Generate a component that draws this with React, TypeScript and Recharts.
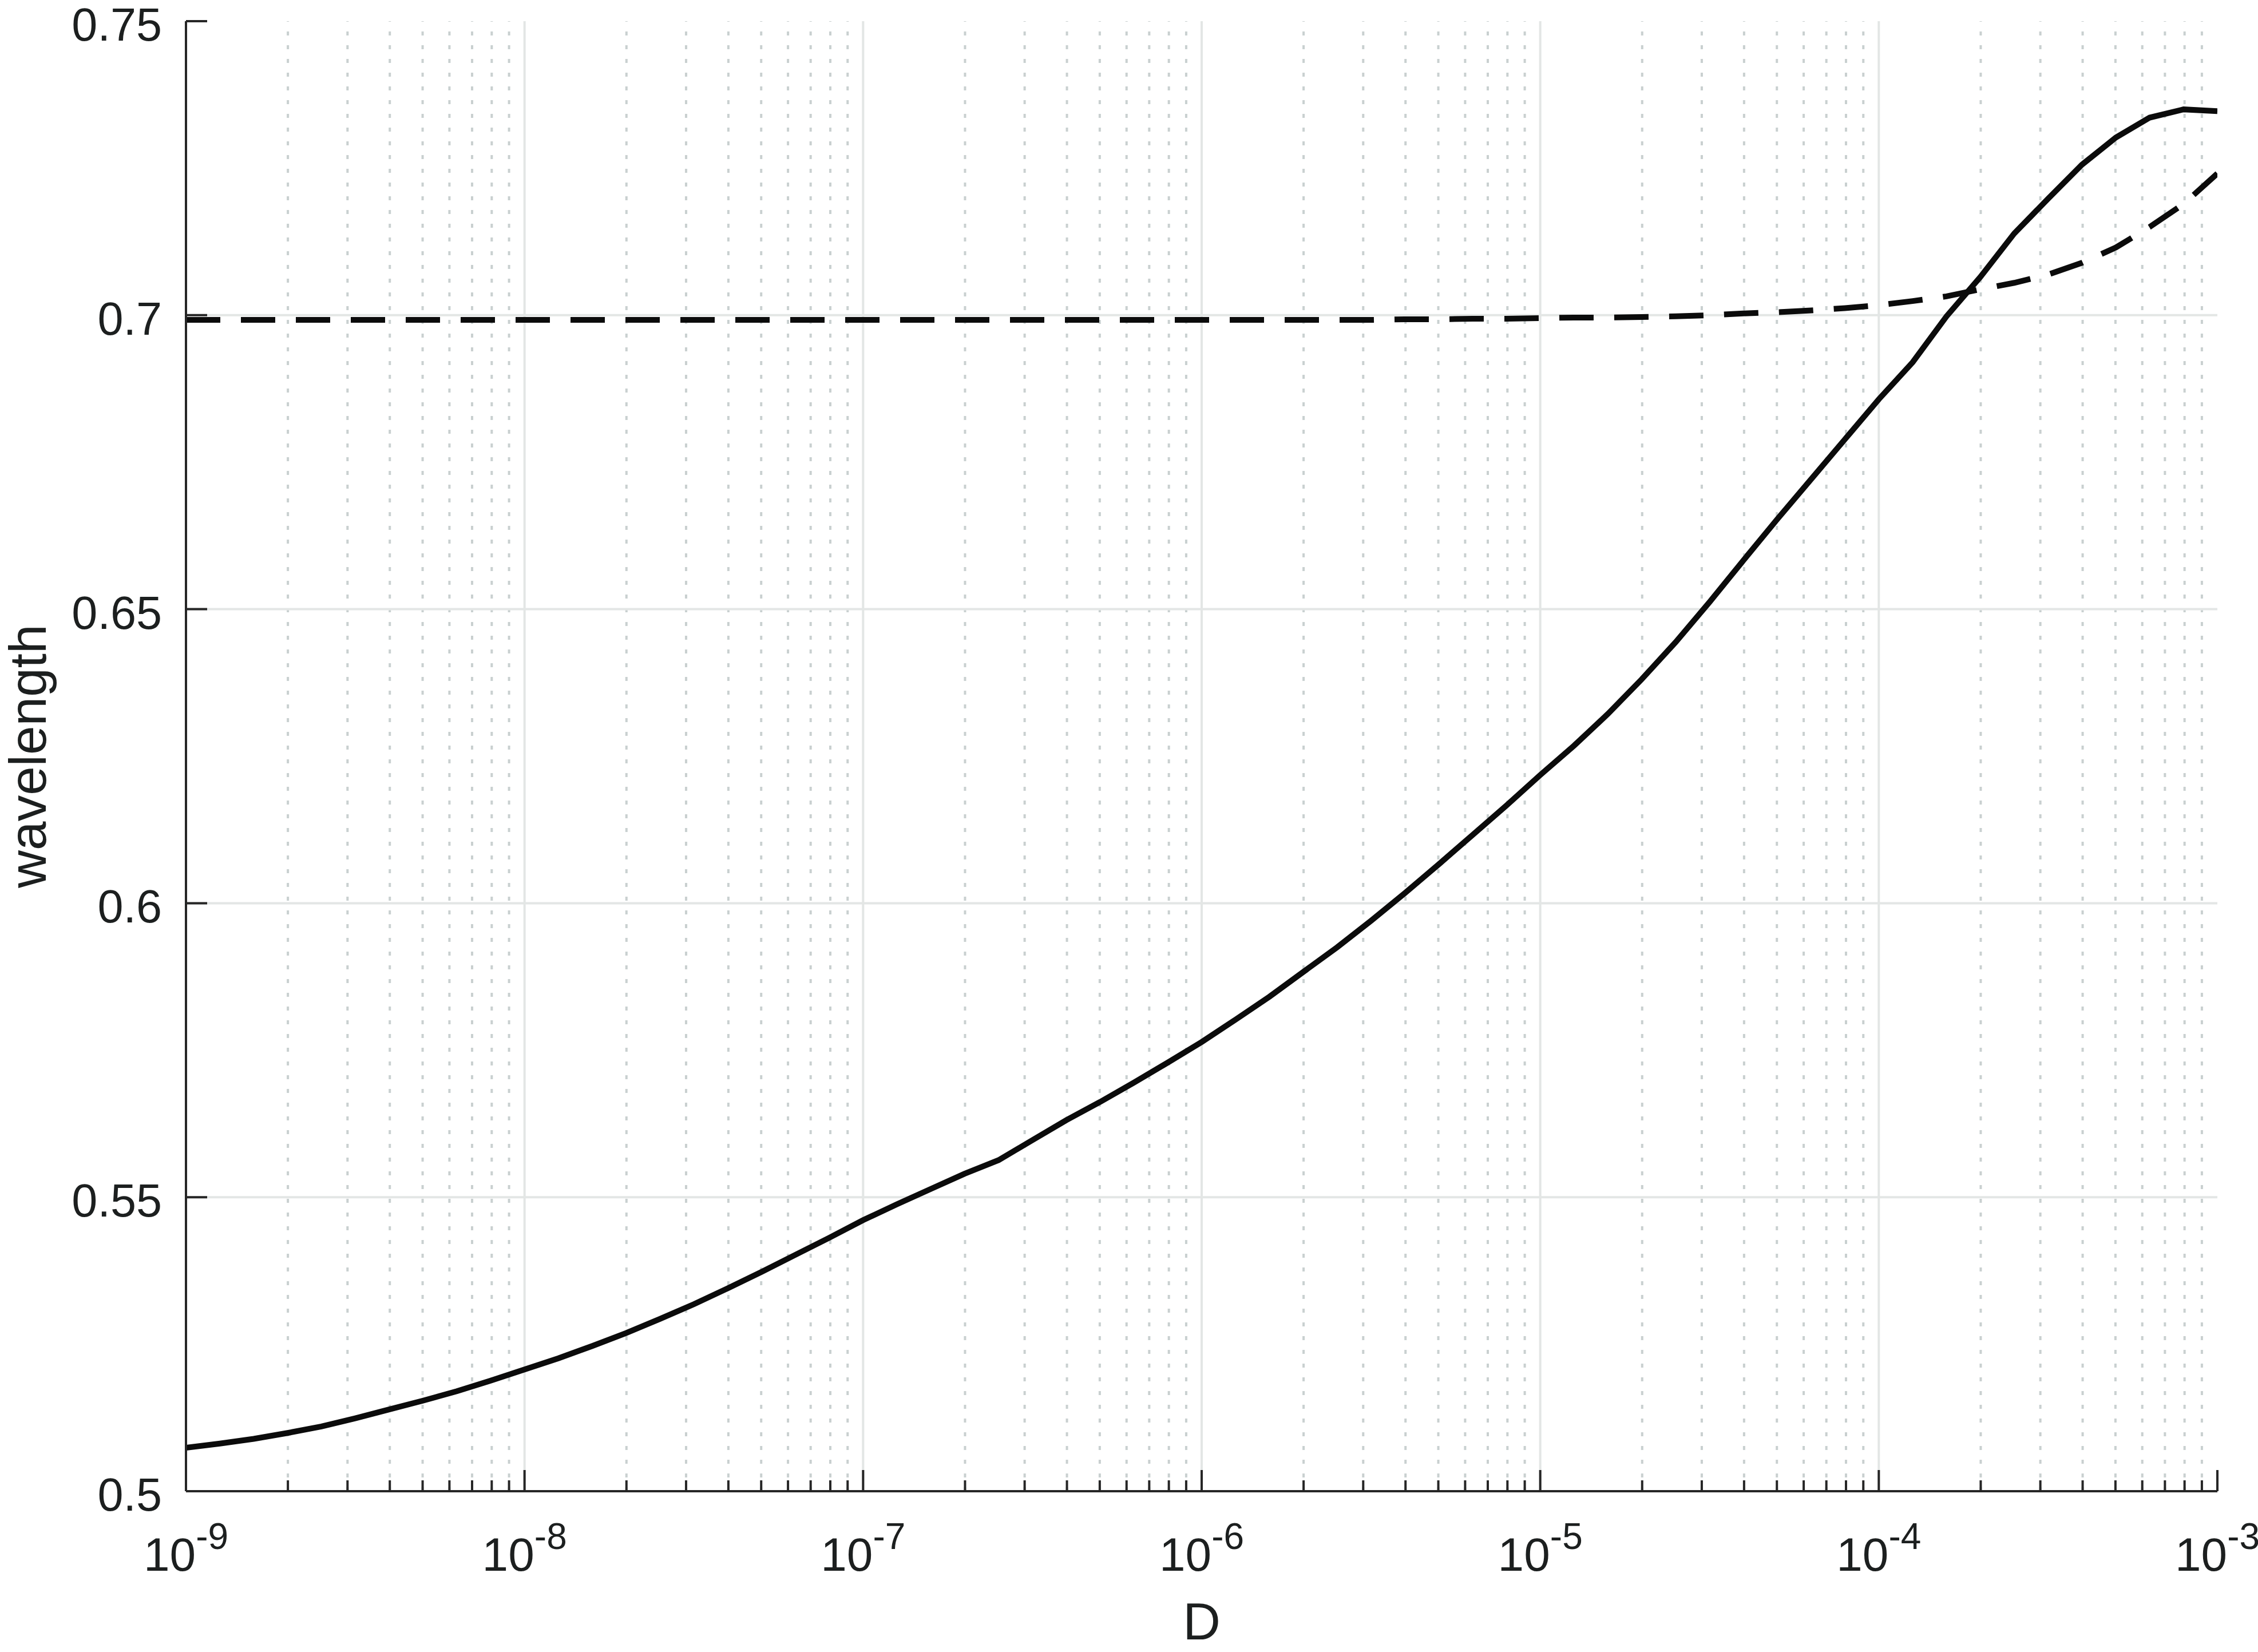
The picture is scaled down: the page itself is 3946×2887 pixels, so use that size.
import React from 'react';
import { LineChart, Line, XAxis, YAxis, ReferenceLine } from 'recharts';

// Sample positions of D (log-spaced)
const D_VALUES = [
  1e-9, 1.259e-9, 1.585e-9, 1.995e-9, 2.512e-9, 3.162e-9, 3.981e-9, 5.012e-9, 6.31e-9, 7.943e-9,
  1e-8, 1.259e-8, 1.585e-8, 1.995e-8, 2.512e-8, 3.162e-8, 3.981e-8, 5.012e-8, 6.31e-8, 7.943e-8,
  1e-7, 1.259e-7, 1.585e-7, 1.995e-7, 2.512e-7, 3.162e-7, 3.981e-7, 5.012e-7, 6.31e-7, 7.943e-7,
  1e-6, 1.259e-6, 1.585e-6, 1.995e-6, 2.512e-6, 3.162e-6, 3.981e-6, 5.012e-6, 6.31e-6, 7.943e-6,
  1e-5, 1.259e-5, 1.585e-5, 1.995e-5, 2.512e-5, 3.162e-5, 3.981e-5, 5.012e-5, 6.31e-5, 7.943e-5,
  1e-4, 1.259e-4, 1.585e-4, 1.995e-4, 2.512e-4, 3.162e-4, 3.981e-4, 5.012e-4, 6.31e-4, 7.943e-4,
  1e-3,
];

// Solid curve
const SOLID = [
  0.5074, 0.5081, 0.5089, 0.5099, 0.511, 0.5124, 0.5139, 0.5154, 0.517, 0.5188,
  0.5207, 0.5226, 0.5247, 0.5269, 0.5293, 0.5318, 0.5345, 0.5373, 0.5402, 0.5431,
  0.5461, 0.5488, 0.5514, 0.554, 0.5563, 0.5597, 0.5631, 0.5662, 0.5695, 0.5729,
  0.5764, 0.5802, 0.5841, 0.5883, 0.5925, 0.597, 0.6017, 0.6066, 0.6116, 0.6166,
  0.6218, 0.6268, 0.6322, 0.6381, 0.6444, 0.6512, 0.6583, 0.6653, 0.6721, 0.6789,
  0.6857, 0.692, 0.6998, 0.7065, 0.7139, 0.7198, 0.7256, 0.7302, 0.7336, 0.735,
  0.7347,
];

// Dashed curve
const DASHED = [
  0.6992, 0.6992, 0.6992, 0.6992, 0.6992, 0.6992, 0.6992, 0.6992, 0.6992, 0.6992,
  0.6992, 0.6992, 0.6992, 0.6992, 0.6992, 0.6992, 0.6992, 0.6992, 0.6992, 0.6992,
  0.6992, 0.6992, 0.6992, 0.6992, 0.6992, 0.6992, 0.6992, 0.6992, 0.6992, 0.6992,
  0.6992, 0.6992, 0.6992, 0.6992, 0.6992, 0.6992, 0.6993, 0.6993, 0.6994, 0.6994,
  0.6995, 0.6996, 0.6996, 0.6997, 0.6998, 0.7, 0.7003, 0.7005, 0.7008, 0.7012,
  0.7017, 0.7024, 0.7032, 0.7044, 0.7055, 0.7069, 0.7089, 0.7115, 0.715, 0.7189,
  0.7241,
];

const DECADE_EXPONENTS = [-9, -8, -7, -6, -5, -4, -3];
const MINOR_MULTIPLIERS = [2, 3, 4, 5, 6, 7, 8, 9];
const Y_TICKS = [0.5, 0.55, 0.6, 0.65, 0.7, 0.75];
const Y_TICK_LABELS = ['0.5', '0.55', '0.6', '0.65', '0.7', '0.75'];
const X_LABEL = 'D';
const Y_LABEL = 'wavelength';

const MAJOR_X = DECADE_EXPONENTS.map((e) => Number(`1e${e}`));
const MINOR_X = DECADE_EXPONENTS.slice(0, -1).flatMap((e) =>
  MINOR_MULTIPLIERS.map((m) => Number(`${m}e${e}`))
);
const X_TICKS = [...MAJOR_X, ...MINOR_X].sort((a, b) => a - b);
const INNER_MAJOR_X = MAJOR_X.slice(1, -1);
const INNER_Y = Y_TICKS.slice(1, -1);

const data = D_VALUES.map((d, i) => ({ D: d, solid: SOLID[i], dashed: DASHED[i] }));

const FONT = '"Liberation Sans", Arial, Helvetica, sans-serif';
const AXIS = '#262626';
const TEXT = '#1c1f1f';
const GRID = '#e3e6e5';
const MINOR_GRID = '#c9d0d0';
const LINE = '#0b0b0b';
const MAJOR_LEN = 37;
const MINOR_LEN = 19;

const BottomTick = (props: any) => {
  const { x, y, payload } = props;
  const idx = MAJOR_X.indexOf(payload.value);
  const major = idx >= 0;
  return (
    <g>
      <line x1={x} x2={x} y1={y} y2={y - (major ? MAJOR_LEN : MINOR_LEN)} stroke={AXIS} strokeWidth={4} />
      {major && (
        <text x={x} y={y + 139} textAnchor="middle" fontFamily={FONT} fill={TEXT} fontSize={82}>
          10
          <tspan fontSize={64} dy={-38}>{String(DECADE_EXPONENTS[idx])}</tspan>
        </text>
      )}
    </g>
  );
};

const TopTick = (props: any) => {
  const { x, y, payload } = props;
  const major = MAJOR_X.indexOf(payload.value) >= 0;
  return (
    <line x1={x} x2={x} y1={y} y2={y + (major ? MAJOR_LEN : MINOR_LEN)} stroke={AXIS} strokeWidth={4} />
  );
};

const LeftTick = (props: any) => {
  const { x, y, payload } = props;
  const i = Y_TICKS.indexOf(payload.value);
  return (
    <g>
      <line x1={x} x2={x + MAJOR_LEN} y1={y} y2={y} stroke={AXIS} strokeWidth={4} />
      <text x={x - 42} y={y + 34} textAnchor="end" fontFamily={FONT} fill={TEXT} fontSize={81}>
        {Y_TICK_LABELS[i]}
      </text>
    </g>
  );
};

const RightTick = (props: any) => {
  const { x, y } = props;
  return <line x1={x} x2={x - MAJOR_LEN} y1={y} y2={y} stroke={AXIS} strokeWidth={4} />;
};

const XLabel = (props: any) => {
  const vb = props.viewBox || { x: 325, y: 2606, width: 3550, height: 281 };
  return (
    <text x={vb.x + vb.width / 2} y={vb.y + 259} textAnchor="middle" fontFamily={FONT} fill={TEXT} fontSize={91}>
      {X_LABEL}
    </text>
  );
};

const YLabel = (props: any) => {
  const vb = props.viewBox || { x: 0, y: 37, width: 325, height: 2569 };
  const cx = vb.x + 80;
  const cy = vb.y + vb.height / 2;
  return (
    <text x={cx} y={cy} transform={`rotate(-90 ${cx} ${cy})`} textAnchor="middle" fontFamily={FONT} fill={TEXT} fontSize={91}>
      {Y_LABEL}
    </text>
  );
};

export default function App() {
  return (
    <div style={{ position: 'absolute', left: 0, top: 0, width: 3946, height: 2887, background: '#fff' }}>
      <LineChart width={3946} height={2887} data={data} margin={{ top: 37, right: 71, bottom: 0, left: 0 }}>
        <XAxis
          xAxisId="b"
          dataKey="D"
          type="number"
          scale="log"
          domain={[1e-9, 1e-3]}
          allowDataOverflow
          ticks={X_TICKS}
          interval={0}
          tickSize={0}
          tickMargin={0}
          tickLine={false}
          height={281}
          axisLine={{ stroke: AXIS, strokeWidth: 4 }}
          tick={<BottomTick />}
          label={<XLabel />}
        />
        <XAxis
          xAxisId="t"
          orientation="top"
          dataKey="D"
          type="number"
          scale="log"
          domain={[1e-9, 1e-3]}
          allowDataOverflow
          ticks={X_TICKS}
          interval={0}
          tickSize={0}
          tickMargin={0}
          tickLine={false}
          height={0}
          axisLine={{ stroke: AXIS, strokeWidth: 4 }}
          tick={<TopTick />}
        />
        <YAxis
          yAxisId="l"
          type="number"
          domain={[0.5, 0.75]}
          allowDataOverflow
          ticks={Y_TICKS}
          interval={0}
          tickSize={0}
          tickMargin={0}
          tickLine={false}
          width={325}
          axisLine={{ stroke: AXIS, strokeWidth: 4 }}
          tick={<LeftTick />}
          label={<YLabel />}
        />
        <YAxis
          yAxisId="r"
          orientation="right"
          type="number"
          domain={[0.5, 0.75]}
          allowDataOverflow
          ticks={Y_TICKS}
          interval={0}
          tickSize={0}
          tickMargin={0}
          tickLine={false}
          width={0}
          axisLine={{ stroke: AXIS, strokeWidth: 4 }}
          tick={<RightTick />}
        />
        {MINOR_X.map((v) => (
          <ReferenceLine
            key={`mx${v}`}
            x={v}
            xAxisId="b"
            yAxisId="l"
            stroke={MINOR_GRID}
            strokeWidth={4}
            strokeDasharray="7 17"
          />
        ))}
        {INNER_MAJOR_X.map((v) => (
          <ReferenceLine key={`Mx${v}`} x={v} xAxisId="b" yAxisId="l" stroke={GRID} strokeWidth={4} />
        ))}
        {INNER_Y.map((v) => (
          <ReferenceLine key={`My${v}`} y={v} xAxisId="b" yAxisId="l" stroke={GRID} strokeWidth={4} />
        ))}
        <Line
          xAxisId="b"
          yAxisId="l"
          type="linear"
          dataKey="solid"
          stroke={LINE}
          strokeWidth={10}
          dot={false}
          isAnimationActive={false}
        />
        <Line
          xAxisId="b"
          yAxisId="l"
          type="linear"
          dataKey="dashed"
          stroke={LINE}
          strokeWidth={10}
          strokeDasharray="60 36"
          dot={false}
          isAnimationActive={false}
        />
      </LineChart>
    </div>
  );
}
